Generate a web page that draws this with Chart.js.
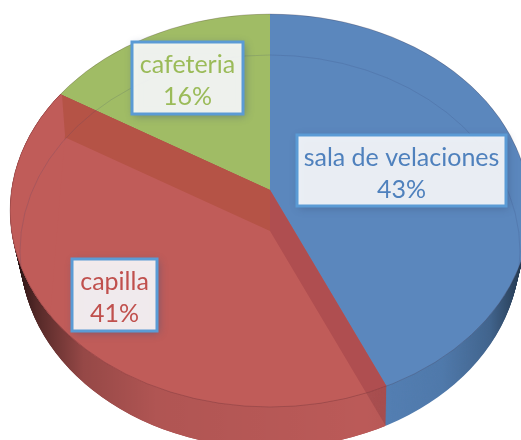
<!DOCTYPE html>
<html>
<head>
<meta charset="utf-8">
<style>html,body{margin:0;padding:0;background:#fff;overflow:hidden}#w{position:relative;width:521px;height:440px}</style>
<script src="https://cdn.jsdelivr.net/npm/chart.js@4"></script>
</head>
<body>
<div id="w"><canvas id="c" width="521" height="440"></canvas></div>
<script>
const categories = ['sala de velaciones', 'capilla', 'cafeteria'];
const shares = [43, 41, 16];
const topColors = ['#5b87bd', '#c05c59', '#a0bc65'];
const wallColors = ['#5580b5', '#bb5a58', '#8fa85a'];
const textColors = ['#4f81bd', '#c0504d', '#9bbb59'];
const labelBoxes = [[297, 135, 209, 71], [72, 259, 85, 72], [132, 42, 111, 72]];

const K = { ax: 270, ay: 190, cx: 270, cy: 210.5, rx: 260, rxFar: 250, ry: 196.5, depth: 41, sx: 1.6, sy: 1.317, shear: -0.105 };

function ellipse(ctx, dy) {
  const rx = K.rx - (K.rx - K.rxFar) * dy / K.depth;
  ctx.beginPath();
  ctx.ellipse(K.cx, K.cy + dy, rx, K.ry, 0, 0, Math.PI * 2);
}
function paint(ctx, el, dy, color, clipDy) {
  ctx.save();
  ellipse(ctx, clipDy === undefined ? dy : clipDy);
  ctx.clip();
  ctx.transform(K.sx, K.shear, 0, K.sy, K.ax, K.ay + dy);
  ctx.translate(-el.x, -el.y);
  const o = el.options;
  el.options = Object.assign({}, o, { backgroundColor: color, borderColor: color, borderWidth: 0 });
  el.draw(ctx);
  el.options = o;
  ctx.restore();
}

const pie3d = {
  id: 'pie3d',
  beforeDatasetsDraw(chart) {
    const ctx = chart.ctx;
    const arcs = chart.getDatasetMeta(0).data;

    // side wall
    for (let dy = K.depth; dy >= 1; dy--) {
      paint(ctx, arcs[0], dy, wallColors[0]);
      paint(ctx, arcs[2], dy, wallColors[2]);
      paint(ctx, arcs[1], dy, '#a94f50');
    }
    paint(ctx, arcs[1], K.depth, wallColors[1]);

    // wall shading
    ctx.save();
    ctx.globalCompositeOperation = 'source-atop';
    const g = ctx.createLinearGradient(0, 0, 521, 0);
    g.addColorStop(0.03, 'rgba(0,0,0,0.8)');
    g.addColorStop(0.07, 'rgba(0,0,0,0.55)');
    g.addColorStop(0.16, 'rgba(0,0,0,0.2)');
    g.addColorStop(0.30, 'rgba(0,0,0,0.06)');
    g.addColorStop(0.70, 'rgba(0,0,0,0.0)');
    g.addColorStop(0.85, 'rgba(0,0,0,0.06)');
    g.addColorStop(0.94, 'rgba(0,0,0,0.22)');
    g.addColorStop(1, 'rgba(0,0,0,0.55)');
    ctx.fillStyle = g;
    ctx.fillRect(0, 0, 521, 440);
    ctx.restore();

    // top face
    arcs.forEach((el, i) => paint(ctx, el, 0, topColors[i]));

    // red slice: inner walls seen through the surface
    paint(ctx, arcs[1], 0, '#af4e50');
    ctx.save();
    ellipse(ctx, 0); ctx.clip();
    ctx.beginPath();
    ctx.rect(0, 0, K.ax, 240);
    ctx.clip();
    paint(ctx, arcs[1], 0, '#b55346');
    ctx.restore();
    ctx.save();
    ellipse(ctx, 0); ctx.clip();
    paint(ctx, arcs[1], K.depth, topColors[1]);
    ctx.restore();
    // crescent left of the inner wall stays surface coloured
    ctx.save();
    ctx.beginPath();
    ctx.moveTo(0, 60); ctx.lineTo(48, 60); ctx.lineTo(62, 95); ctx.lineTo(65, 135);
    ctx.lineTo(40, 440); ctx.lineTo(0, 440); ctx.closePath();
    ctx.clip();
    paint(ctx, arcs[1], 0, topColors[1]);
    ctx.restore();

    // faint far ring
    ctx.save();
    ellipse(ctx, 0); ctx.clip();
    ellipse(ctx, K.depth);
    ctx.lineWidth = 1;
    ctx.strokeStyle = 'rgba(50,60,110,0.16)';
    ctx.stroke();
    ctx.restore();

    // rim
    ctx.save();
    ellipse(ctx, 0);
    ctx.lineWidth = 1;
    ctx.strokeStyle = 'rgba(60,30,40,0.22)';
    ctx.stroke();
    ctx.restore();

    // labels
    categories.forEach((name, i) => {
      const [x, y, w, h] = labelBoxes[i];
      ctx.save();
      ctx.shadowColor = 'rgba(60,80,120,0.55)';
      ctx.shadowBlur = 8;
      ctx.shadowOffsetX = 2;
      ctx.shadowOffsetY = 2;
      ctx.fillStyle = 'rgba(255,255,255,0.88)';
      ctx.fillRect(x, y, w, h);
      ctx.restore();
      ctx.save();
      ctx.strokeStyle = '#5b9bd5';
      ctx.lineWidth = 3;
      ctx.strokeRect(x, y, w, h);
      ctx.fillStyle = textColors[i];
      ctx.font = '25px Lato, sans-serif';
      ctx.textAlign = 'center';
      ctx.textBaseline = 'alphabetic';
      const mx = x + w / 2;
      ctx.fillText(name, mx, y + 31);
      ctx.fillText(shares[i] + '%', mx, y + 63);
      ctx.restore();
    });
    return false;
  }
};

new Chart(document.getElementById('c'), {
  type: 'pie',
  data: {
    labels: categories,
    datasets: [{ data: shares, backgroundColor: topColors, borderWidth: 0 }]
  },
  options: {
    responsive: false,
    animation: false,
    events: [],
    layout: { padding: 0 },
    plugins: { legend: { display: false }, tooltip: { enabled: false } }
  },
  plugins: [pie3d]
});
</script>
</body>
</html>
